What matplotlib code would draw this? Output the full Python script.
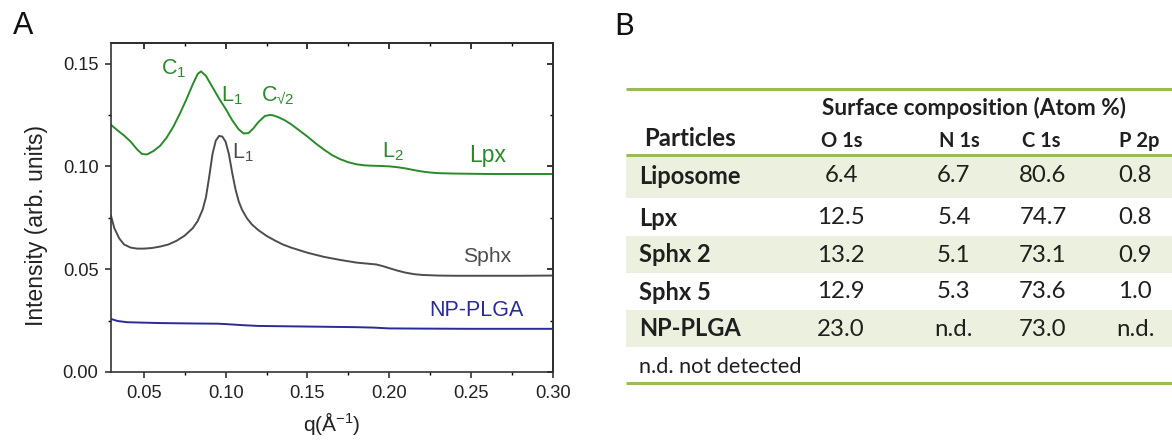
import matplotlib
matplotlib.use("Agg")
import matplotlib.pyplot as plt
from matplotlib.ticker import MultipleLocator, NullFormatter

# ---------------- data (panel A) ----------------
q_lpx = [0.030, 0.034, 0.038, 0.042, 0.046, 0.049, 0.052, 0.056, 0.060, 0.064, 0.068, 0.072,
         0.076, 0.080, 0.083, 0.085, 0.088, 0.092, 0.096, 0.100, 0.104, 0.108, 0.111, 0.114,
         0.117, 0.120, 0.124, 0.127, 0.129, 0.132, 0.136, 0.140, 0.145, 0.150, 0.155, 0.160,
         0.165, 0.170, 0.175, 0.180, 0.185, 0.190, 0.195, 0.200, 0.205, 0.210, 0.215, 0.220,
         0.225, 0.230, 0.240, 0.250, 0.260, 0.270, 0.280, 0.290, 0.300]
i_lpx = [0.1202, 0.1175, 0.1150, 0.1120, 0.1082, 0.1060, 0.1058, 0.1075, 0.1100, 0.1140, 0.1192, 0.1255,
         0.1325, 0.1400, 0.1450, 0.1462, 0.1440, 0.1385, 0.1330, 0.1280, 0.1225, 0.1180, 0.1160, 0.1162,
         0.1185, 0.1215, 0.1245, 0.1250, 0.1248, 0.1240, 0.1225, 0.1205, 0.1175, 0.1145, 0.1112, 0.1082,
         0.1055, 0.1035, 0.1020, 0.1010, 0.1005, 0.1003, 0.1002, 0.1000, 0.0996, 0.0990, 0.0982, 0.0975,
         0.0970, 0.0967, 0.0965, 0.0964, 0.0963, 0.0963, 0.0963, 0.0963, 0.0963]

q_sphx = [0.030, 0.032, 0.035, 0.038, 0.042, 0.046, 0.050, 0.055, 0.060, 0.065, 0.070, 0.075,
          0.080, 0.083, 0.086, 0.088, 0.090, 0.092, 0.094, 0.096, 0.098, 0.100, 0.102, 0.104,
          0.106, 0.108, 0.110, 0.113, 0.116, 0.120, 0.125, 0.130, 0.135, 0.140, 0.150, 0.160,
          0.170, 0.180, 0.188, 0.192, 0.196, 0.200, 0.205, 0.210, 0.215, 0.220, 0.230, 0.240,
          0.260, 0.280, 0.300]
i_sphx = [0.0760, 0.0700, 0.0650, 0.0620, 0.0605, 0.0600, 0.0600, 0.0603, 0.0610, 0.0620, 0.0638, 0.0663,
          0.0700, 0.0735, 0.0790, 0.0850, 0.0950, 0.1060, 0.1125, 0.1148, 0.1145, 0.1120, 0.1060, 0.0970,
          0.0890, 0.0830, 0.0790, 0.0748, 0.0718, 0.0690, 0.0662, 0.0640, 0.0620, 0.0605, 0.0580, 0.0560,
          0.0545, 0.0532, 0.0526, 0.0523, 0.0515, 0.0505, 0.0493, 0.0483, 0.0476, 0.0472, 0.0469, 0.0468,
          0.0468, 0.0468, 0.0469]

q_plga = [0.030, 0.034, 0.040, 0.050, 0.060, 0.080, 0.095, 0.100, 0.110, 0.120, 0.140, 0.160,
          0.180, 0.190, 0.200, 0.220, 0.250, 0.300]
i_plga = [0.0258, 0.0248, 0.0242, 0.0240, 0.0238, 0.0236, 0.0235, 0.0233, 0.0228, 0.0224, 0.0222, 0.0220,
          0.0218, 0.0216, 0.0212, 0.0211, 0.0210, 0.0210]

# ---------------- data (panel B) ----------------
particles = ["Liposome", "Lpx", "Sphx 2", "Sphx 5", "NP-PLGA"]
elements = ["O 1s", "N 1s", "C 1s", "P 2p"]
o1s = ["6.4", "12.5", "13.2", "12.9", "23.0"]
n1s = ["6.7", "5.4", "5.1", "5.3", "n.d."]
c1s = ["80.6", "74.7", "73.1", "73.6", "73.0"]
p2p = ["0.8", "0.8", "0.9", "1.0", "n.d."]

GREEN = "#2a8a2a"
GRAY = "#4d4d4d"
BLUE = "#2b2b96"

plt.rcParams["font.family"] = ["Liberation Sans", "DejaVu Sans"]
plt.rcParams["mathtext.fontset"] = "custom"
plt.rcParams["mathtext.rm"] = "Liberation Sans"
plt.rcParams["mathtext.it"] = "Liberation Sans"

fig = plt.figure(figsize=(11.72, 4.41), dpi=100)

# ---------------- panel A ----------------
ax = fig.add_axes([111 / 1172, 1 - 372 / 441, 442 / 1172, 329 / 441])
ax.plot(q_lpx, i_lpx, color=GREEN, lw=1.4)
ax.plot(q_sphx, i_sphx, color=GRAY, lw=1.4)
ax.plot(q_plga, i_plga, color=BLUE, lw=1.4)
ax.set_xlim(0.03, 0.30)
ax.set_ylim(0.0, 0.16)
ax.xaxis.set_major_locator(MultipleLocator(0.05))
ax.xaxis.set_minor_locator(MultipleLocator(0.025))
ax.yaxis.set_major_locator(MultipleLocator(0.05))
ax.yaxis.set_minor_locator(MultipleLocator(0.025))
ax.xaxis.set_major_formatter(matplotlib.ticker.FormatStrFormatter("%.2f"))
ax.yaxis.set_major_formatter(matplotlib.ticker.FormatStrFormatter("%.2f"))
ax.tick_params(which="major", direction="out", length=4, width=1.1, labelsize=13.2,
               colors="#222222", pad=5)
ax.tick_params(which="minor", direction="out", length=2.5, width=1.0)
for s in ax.spines.values():
    s.set_linewidth(1.2)
    s.set_color("#333333")

for pos, axis in (("top", "x"), ("right", "y")):
    sec = ax.secondary_xaxis(pos) if axis == "x" else ax.secondary_yaxis(pos)
    a = sec.xaxis if axis == "x" else sec.yaxis
    a.set_major_locator(MultipleLocator(0.05))
    a.set_minor_locator(MultipleLocator(0.025))
    a.set_major_formatter(NullFormatter())
    sec.tick_params(which="major", direction="in", length=4, width=1.1)
    sec.tick_params(which="minor", direction="in", length=2.5, width=1.0)
    sec.spines[pos].set_linewidth(1.2)

ax.set_ylabel("Intensity (arb. units)", fontsize=16.5, color="#222222")
ax.yaxis.set_label_coords(-0.142, 0.445)
ax.set_xlabel("q(Å$^{\\mathregular{-1}}$)", fontsize=15, color="#222222", labelpad=6)

ax.text(0.0685, 0.1475, "$\\mathregular{C_1}$", color=GREEN, fontsize=15.5, ha="center", va="center")
ax.text(0.1040, 0.1345, "$\\mathregular{L_1}$", color=GREEN, fontsize=15.5, ha="center", va="center")
ax.text(0.1320, 0.1345, "$\\mathregular{C_{√2}}$", color=GREEN, fontsize=15.5, ha="center", va="center")
ax.text(0.2020, 0.1070, "$\\mathregular{L_2}$", color=GREEN, fontsize=15.5, ha="center", va="center")
ax.text(0.2600, 0.1055, "Lpx", color=GREEN, fontsize=16.5, ha="center", va="center")
ax.text(0.1105, 0.1065, "$\\mathregular{L_1}$", color=GRAY, fontsize=15.5, ha="center", va="center")
ax.text(0.2600, 0.0560, "Sphx", color=GRAY, fontsize=15.2, ha="center", va="center")
ax.text(0.2535, 0.0300, "NP-PLGA", color=BLUE, fontsize=15.5, ha="center", va="center")

fig.text(23 / 1172, 1 - 26 / 441, "A", fontsize=22, ha="center", va="center", color="#111111")

# ---------------- panel B (table) ----------------
tb = fig.add_axes([0, 0, 1, 1], zorder=-1)
tb.set_xlim(0, 1172)
tb.set_ylim(441, 0)
tb.axis("off")

TFONT = ["Lato", "DejaVu Sans"]
TC = "#1f1f1f"
LINE = "#9bbb59"
BAND = "#ebf1de"
x0, x1 = 626, 1172

tb.text(624, 26, "B", fontsize=22, ha="center", va="center", color="#111111", family=TFONT)

row_top = [155, 198, 236, 273, 310]
row_bot = [198, 236, 273, 310, 347]
for k in range(len(particles)):
    if k % 2 == 0:
        tb.fill_between([x0, x1], row_top[k], row_bot[k], color=BAND, lw=0)

tb.hlines([89, 155, 383], x0, x1, color=LINE, lw=2.2)

tb.text(822, 108, "Surface composition (Atom %)", fontsize=16.3, fontweight="bold",
        ha="left", va="center", color=TC, family=TFONT)
tb.text(644, 139, "Particles", fontsize=17.3, fontweight="bold", ha="left", va="center",
        color=TC, family=TFONT)
col_x = [842, 959, 1041, 1139]
for cx, name in zip(col_x, elements):
    tb.text(cx, 141, name, fontsize=14.5, fontweight="bold", ha="center", va="center",
            color=TC, family=TFONT)

row_y = [176, 218, 255, 292, 329]
cols = [o1s, n1s, c1s, p2p]
val_x = [841, 954, 1043, 1135]
for k, name in enumerate(particles):
    tb.text(639, row_y[k], name, fontsize=17, fontweight="bold", ha="left", va="center",
            color=TC, family=TFONT)
    for cx, col in zip(val_x, cols):
        tb.text(cx, row_y[k], col[k], fontsize=17.3, ha="center", va="center",
                color=TC, family=TFONT)

tb.text(639, 367, "n.d. not detected", fontsize=15.6, ha="left", va="center", color=TC,
        family=TFONT)

fig.savefig("out.png", dpi=100)
